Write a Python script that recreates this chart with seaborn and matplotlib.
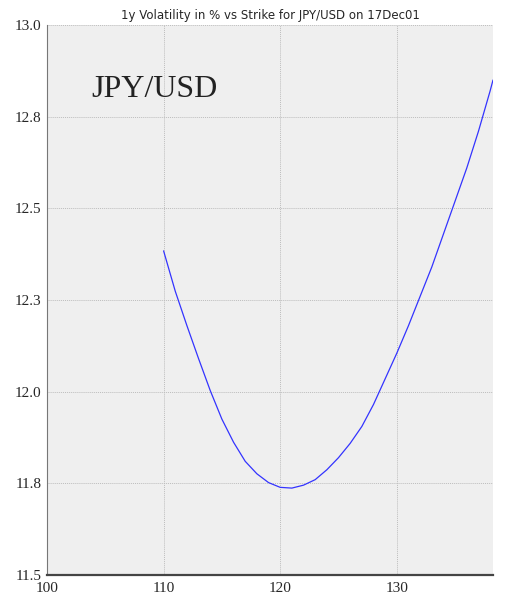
import matplotlib
matplotlib.use('Agg')
import matplotlib.pyplot as plt
import seaborn as sns
import pandas as pd
from matplotlib import font_manager

# strike vs 1y implied vol
strikes = [110, 111, 112, 113, 114, 115, 116, 117, 118, 119, 120, 121, 122, 123, 124,
           125, 126, 127, 128, 129, 130, 131, 132, 133, 134, 135, 136, 137, 138, 138.25]
vols = [12.384, 12.274, 12.18, 12.09, 12.003, 11.925, 11.862, 11.81, 11.776, 11.752,
        11.739, 11.737, 11.745, 11.76, 11.787, 11.82, 11.859, 11.905, 11.965, 12.035,
        12.105, 12.18, 12.26, 12.34, 12.43, 12.52, 12.61, 12.71, 12.82, 12.85]
xticks = [100, 110, 120, 130]
yticks = [11.5, 11.75, 12.0, 12.25, 12.5, 12.75, 13.0]
ytick_labels = ['11.5', '11.8', '12.0', '12.3', '12.5', '12.8', '13.0']
title = '1y Volatility in % vs Strike for JPY/USD on 17Dec01'
pair = 'JPY/USD'

df = pd.DataFrame({'strike': strikes, 'vol': vols})

# use condensed faces if the system has them
names = {f.name for f in font_manager.fontManager.ttflist}
tick_font = 'DejaVu Serif Condensed' if 'DejaVu Serif Condensed' in names else 'Liberation Serif'
title_font = 'DejaVu Sans Condensed' if 'DejaVu Sans Condensed' in names else 'DejaVu Sans'

sns.set_style('white')
fig = plt.figure(figsize=(5.08, 6.10), dpi=100)
ax = fig.add_axes([0.0925, 0.0574, 0.878, 0.9016])
ax.set_facecolor('#efefef')

sns.lineplot(data=df, x='strike', y='vol', ax=ax, color='#3333ff', linewidth=0.9)

ax.set_xlim(100, 138.25)
ax.set_ylim(11.5, 13.0)
ax.set_xticks(xticks)
ax.set_xticklabels([str(t) for t in xticks], family=tick_font, fontsize=11)
ax.set_yticks(yticks)
ax.set_yticklabels(ytick_labels, family=tick_font, fontsize=11)
ax.set_xlabel('')
ax.set_ylabel('')

ax.grid(True, color='#bdbdbd', linestyle=(0, (1, 1)), linewidth=0.7)
ax.tick_params(axis='y', direction='in', length=4, color='#333333', pad=4)
ax.tick_params(axis='x', direction='out', length=4, color='#333333', pad=1)

for s in ['top', 'right']:
    ax.spines[s].set_visible(False)
ax.spines['left'].set_color('#777777')
ax.spines['left'].set_linewidth(0.8)
ax.spines['bottom'].set_color('#444444')
ax.spines['bottom'].set_linewidth(1.6)

ax.set_title(title, fontsize=8.5, family=title_font, pad=4)
ax.text(0.1, 0.87, pair, transform=ax.transAxes, family='Liberation Serif',
        fontsize=23, color='#222222')

fig.savefig('out.png', dpi=100, facecolor='white')
